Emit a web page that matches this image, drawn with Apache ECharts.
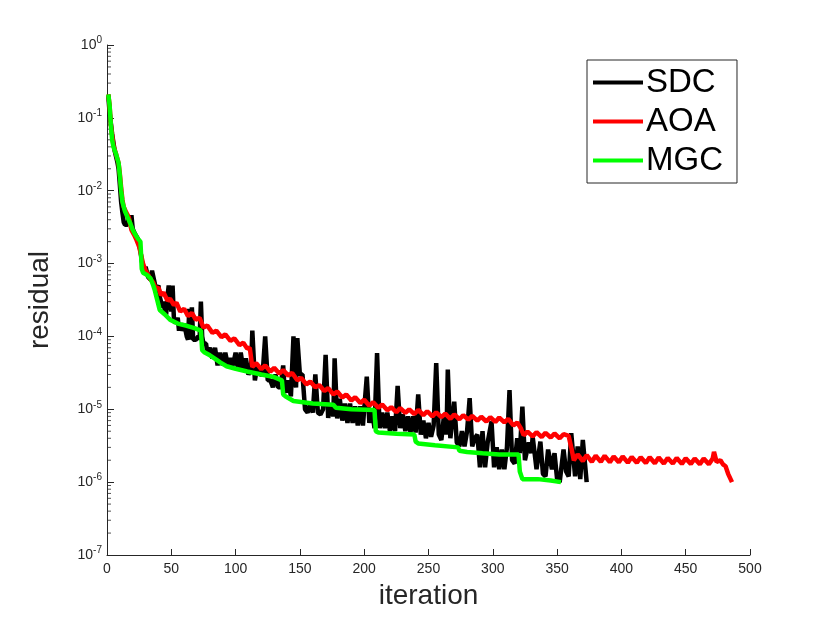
<!DOCTYPE html>
<html>
<head>
<meta charset="utf-8">
<script src="https://cdn.jsdelivr.net/npm/echarts@6/dist/echarts.min.js"></script>
<style>
  html, body { margin: 0; padding: 0; background: #fff; }
  #chart { width: 830px; height: 623px; }
</style>
</head>
<body>
<div id="chart"></div>
<script>
// residual per iteration
const seriesNames = ['SDC', 'AOA', 'MGC'];
const seriesColors = ['#000000', '#ff0000', '#00ff00'];

const sdcData = [
  [1,0.2],[2,0.12],[4,0.06],[6,0.035],[8,0.025],[9,0.02],[10,0.012],[11,0.007],[12,0.005],[13,0.0037],
  [14,0.0034],[16,0.0034],[17,0.0045],[18,0.0036],[19,0.0046],[20,0.003],[22,0.0025],[24,0.0022],[25,0.0022],
  [26,0.0015],[27,0.0011],[28,0.0009],[29,0.00075],[30,0.0009],[31,0.0009],[32,0.00065],[34,0.0006],
  [35,0.0008],[36,0.0008],[37,0.00055],[38,0.00045],[39,0.00045],[40,0.0005],[41,0.00035],[42,0.0003],
  [43,0.00025],[44,0.0003],[45,0.00022],[46,0.0002],[47,0.00035],[48,0.0005],[49,0.0005],[50,0.00022],
  [51,0.0005],[52,0.00018],[53,0.00015],[55,0.00018],[56,0.00012],[57,0.00015],[58,0.00012],[60,0.00015],
  [62,0.0001],[63,0.00009],[64,0.00024],[65,0.00009],[66,0.00025],[67,0.00009],[69,0.00009],[71,0.0001],
  [72,0.00009],[73,0.0003],[74,0.0001],[75,0.00008],[77,0.00008],[78,0.00006],[80,0.00007],[82,0.00005],
  [84,0.00007],[86,0.00004],[88,0.00006],[90,0.00004],[92,0.00006],[94,0.00004],[96,0.00005],[98,0.00004],
  [100,0.00006],[102,0.000035],[104,0.00006],[106,0.000035],[108,0.00005],[110,0.00003],[112,0.000035],
  [113,0.00012],[115,0.000025],[117,0.00004],[119,0.00003],[121,0.00003],[123,0.0001],[125,0.000025],
  [127,0.000025],[129,0.00002],[131,0.00003],[133,0.00002],[135,0.00002],[137,0.00004],[138,0.00002],
  [140,0.000017],[141,0.000025],[143,0.000015],[145,0.0001],[146,0.000025],[147,0.00002],[148,0.000095],
  [150,0.00003],[152,0.00003],[154,0.00001],[156,0.000009],[158,0.000012],[160,0.000009],[162,0.00003],
  [164,0.000009],[166,0.0000085],[168,0.00001],[170,0.000056],[172,0.0000076],[174,0.000012],[176,0.000008],
  [177,0.00005],[179,0.0000075],[181,0.000014],[183,0.000007],[185,0.000012],[187,0.0000065],[189,0.000012],
  [191,0.0000065],[193,0.000011],[195,0.000006],[197,0.000011],[199,0.000006],[202,0.000028],[204,0.0000065],
  [206,0.00001],[208,0.0000055],[210,0.000059],[212,0.0000055],[214,0.000009],[216,0.0000055],[218,0.000009],
  [220,0.000005],[222,0.000008],[224,0.000005],[226,0.000021],[228,0.0000055],[230,0.0000085],[232,0.000005],
  [234,0.000008],[236,0.0000048],[238,0.000008],[240,0.0000048],[242,0.000016],[244,0.0000045],[246,0.000007],
  [248,0.000004],[250,0.0000065],[252,0.0000042],[254,0.000006],[256,0.000043],[258,0.0000045],[260,0.0000038],
  [262,0.000008],[264,0.0000045],[265,0.000035],[267,0.000004],[268,0.0000038],[270,0.0000127],[272,0.0000035],
  [274,0.0000031],[276,0.000005],[278,0.0000031],[280,0.000005],[282,0.0000142],[284,0.0000031],[286,0.000004],
  [288,0.0000045],[290,0.0000016],[292,0.000005],[294,0.0000016],[296,0.0000035],[299,0.0000068],[301,0.0000016],
  [303,0.000003],[305,0.0000015],[307,0.0000028],[309,0.0000015],[311,0.000003],[313,0.0000184],[315,0.000002],
  [317,0.0000018],[319,0.000004],[321,0.0000025],[323,0.0000109],[325,0.000002],[326,0.000002],[328,0.0000035],
  [330,0.0000025],[331,0.0000042],[334,0.0000015],[337,0.0000036],[339,0.0000013],[341,0.0000012],[343,0.0000028],
  [346,0.0000015],[348,0.0000025],[350,0.0000011],[352,0.000001],[355,0.0000028],[357,0.0000014],[359,0.0000012],
  [361,0.0000047],[364,0.0000012],[366,0.0000031],[368,0.0000011],[370,0.0000038],[373,0.000001]
];

const aoaData = [
  [1,0.21],[2,0.15],[3,0.08],[5,0.042],[7,0.032],[9,0.024],[10,0.017],[11,0.011],[12,0.0075],[13,0.006],
  [15,0.005],[16,0.0048],[17,0.0043],[18,0.0035],[19,0.0029],[21,0.0025],[23,0.0021],[25,0.0017],[26,0.0016],
  [27,0.0012],[28,0.001],[30,0.0008],[32,0.0007],[34,0.0006],[36,0.00055],[38,0.00045],[40,0.00047],
  [42,0.00037],[44,0.0004],[47,0.00031],[49,0.00033],[52,0.00027],[54,0.00029],[57,0.00022],[60,0.00024],
  [63,0.00019],[66,0.00021],[69,0.00017],[72,0.00018],[75,1.32e-4],[78,1.41e-4],[82,1.12e-4],[85,1.2e-4],
  [89,9.8e-5],[92,1.07e-4],[96,8.7e-5],[99,9.4e-5],[103,7.6e-5],[106,8.2e-5],[109,6.8e-5],[111,7.0e-5],
  [113,3.8e-5],[116,4.3e-5],[120,3.55e-5],[123,4.0e-5],[127,3.3e-5],[130,3.7e-5],[134,3.1e-5],[137,3.45e-5],
  [141,2.9e-5],[144,3.15e-5],[148,2.5e-5],[151,2.7e-5],[155,2.2e-5],[158,2.4e-5],[162,2.0e-5],[165,2.15e-5],
  [169,1.78e-5],[172,1.95e-5],[176,1.6e-5],[179,1.75e-5],[183,1.45e-5],[186,1.6e-5],[190,1.32e-5],[193,1.46e-5],
  [197,1.22e-5],[200,1.35e-5],[204,1.12e-5],[207,1.25e-5],[211,1.05e-5],[214,1.16e-5],[218,9.7e-6],[221,1.07e-5],
  [225,9.1e-6],[228,1.04e-5],[232,8.9e-6],[235,1.0e-5],[239,8.6e-6],[242,9.8e-6],[246,8.3e-6],[249,9.4e-6],
  [253,8.0e-6],[256,9.1e-6],[260,7.8e-6],[263,8.7e-6],[267,7.4e-6],[270,8.5e-6],[274,7.3e-6],[277,8.3e-6],
  [281,7.2e-6],[284,8.1e-6],[288,7.0e-6],[291,7.9e-6],[295,6.8e-6],[298,7.8e-6],[302,6.7e-6],[305,7.7e-6],
  [309,6.6e-6],[312,7.4e-6],[316,6.0e-6],[319,6.6e-6],[322,5.4e-6],[324,4.4e-6],[327,4.95e-6],[331,4.25e-6],
  [334,4.85e-6],[338,4.15e-6],[341,4.75e-6],[345,4.1e-6],[348,4.65e-6],[352,4.0e-6],[355,4.55e-6],[359,4.3e-6],
  [361,3.0e-6],[363,2.0e-6],[366,2.4e-6],[370,1.95e-6],[373,2.35e-6],[377,1.9e-6],[380,2.3e-6],[384,1.9e-6],
  [387,2.3e-6],[391,1.88e-6],[394,2.25e-6],[398,1.87e-6],[401,2.25e-6],[405,1.85e-6],[408,2.22e-6],[412,1.85e-6],
  [415,2.2e-6],[419,1.83e-6],[422,2.2e-6],[426,1.82e-6],[429,2.18e-6],[433,1.8e-6],[436,2.15e-6],[440,1.8e-6],
  [443,2.15e-6],[447,1.78e-6],[450,2.12e-6],[454,1.78e-6],[457,2.1e-6],[461,1.77e-6],[464,2.1e-6],[468,1.77e-6],
  [471,2.1e-6],[472,2.6e-6],[474,1.9e-6],[477,2.0e-6],[479,1.75e-6],[481,1.65e-6],[483,1.3e-6],[486,1.0e-6]
];

const mgcData = [
  [1,0.21],[2,0.15],[3,0.08],[4,0.05],[5,0.04],[7,0.032],[9,0.024],[10,0.016],[11,0.01],[12,0.007],
  [14,0.0052],[16,0.0043],[18,0.0036],[20,0.0029],[22,0.0025],[24,0.0022],[26,0.002],[27,0.00085],[28,0.00075],
  [31,0.0007],[34,0.00062],[36,0.0005],[37,0.00044],[39,0.00032],[41,0.00023],[45,0.0002],[49,0.00017],
  [55,0.00015],[62,0.00014],[68,0.00013],[73,0.00012],[74,0.000065],[76,0.00006],[80,0.000055],[85,0.000048],
  [88,0.000044],[93,0.000039],[100,0.000036],[109,0.000033],[120,0.00003],[129,0.000028],[136,0.000025],
  [137,0.000016],[139,0.000015],[145,0.000013],[160,0.000012],[176,0.0000115],[178,0.0000105],[190,0.00001],
  [208,0.0000098],[209,0.000005],[211,0.0000048],[225,0.0000046],[239,0.0000045],[240,0.0000036],[242,0.0000034],
  [255,0.0000032],[273,0.000003],[274,0.0000027],[280,0.0000026],[292,0.0000025],[305,0.0000024],[320,0.0000024],
  [321,0.0000014],[323,0.0000011],[335,0.0000011],[345,0.00000105],[353,0.000001]
];

const xTickStep = 50;
const yDecades = [1e-7, 1e-6, 1e-5, 1e-4, 1e-3, 1e-2, 1e-1, 1];
const yMinorSteps = [2, 3, 4, 5, 6, 7, 8, 9];

const axisColor = '#262626';
const fontFamily = '"Liberation Sans", Arial, Helvetica, sans-serif';

// minor tick marks at 2..9 of every decade, sitting on the y axis (x = 0)
const yMinorMarks = [];
yDecades.slice(0, -1).forEach(d => {
    yMinorSteps.forEach(m => yMinorMarks.push([0, d * m]));
});

const chart = echarts.init(document.getElementById('chart'));

const option = {
    animation: false,
    backgroundColor: '#ffffff',
    textStyle: {fontFamily: fontFamily},
    grid: {left: 107, right: 80, top: 45, bottom: 68},
    legend: {
        data: seriesNames,
        orient: 'vertical',
        left: 587,
        top: 60,
        padding: [4, 14, 4, 6],
        itemGap: 2,
        itemWidth: 50,
        itemHeight: 4,
        icon: 'rect',
        borderColor: axisColor,
        borderWidth: 1,
        backgroundColor: '#ffffff',
        textStyle: {fontSize: 33, color: '#000', lineHeight: 37, padding: [0, 0, 0, -2]}
    },
    xAxis: {
        type: 'value',
        min: 0,
        max: 500,
        interval: xTickStep,
        name: 'iteration',
        nameLocation: 'middle',
        nameGap: 27,
        nameTextStyle: {fontSize: 28, color: axisColor},
        axisLine: {show: true, onZero: false, lineStyle: {color: axisColor, width: 1}},
        axisTick: {inside: true, length: 6, lineStyle: {color: axisColor}},
        axisLabel: {fontSize: 14, color: axisColor, margin: 7},
        splitLine: {show: false}
    },
    yAxis: {
        type: 'log',
        logBase: 10,
        min: 1e-7,
        max: 1,
        splitNumber: 7,
        name: 'residual',
        nameLocation: 'middle',
        nameGap: 53,
        nameTextStyle: {fontSize: 28, color: axisColor},
        axisLine: {show: true, lineStyle: {color: axisColor, width: 1}},
        axisTick: {show: true, inside: true, length: 7, lineStyle: {color: axisColor}},
        axisLabel: {
            margin: 5,
            formatter: v => '{b|10}{s|' + Math.round(Math.log10(v)) + '}',
            rich: {
                b: {fontSize: 14, color: axisColor},
                s: {fontSize: 10, color: axisColor, padding: [0, 0, 9, 0]}
            }
        },
        splitLine: {show: false}
    },
    series: [
        {name: 'SDC', type: 'line', data: sdcData, showSymbol: false, symbol: 'none',
            lineStyle: {color: seriesColors[0], width: 4.5}, itemStyle: {color: seriesColors[0]}},
        {name: 'AOA', type: 'line', data: aoaData, showSymbol: false, symbol: 'none',
            lineStyle: {color: seriesColors[1], width: 4.5}, itemStyle: {color: seriesColors[1]}},
        {name: 'MGC', type: 'line', data: mgcData, showSymbol: false, symbol: 'none',
            lineStyle: {color: seriesColors[2], width: 4.5}, itemStyle: {color: seriesColors[2]}},
        {
            // short inward minor ticks of the log axis
            name: 'minorTicks', type: 'scatter', data: yMinorMarks, clip: false, silent: true,
            symbol: 'rect', symbolSize: [4, 1], symbolOffset: [2, 0],
            itemStyle: {color: axisColor}, z: 1
        }
    ]
};

chart.setOption(option);
</script>
</body>
</html>
